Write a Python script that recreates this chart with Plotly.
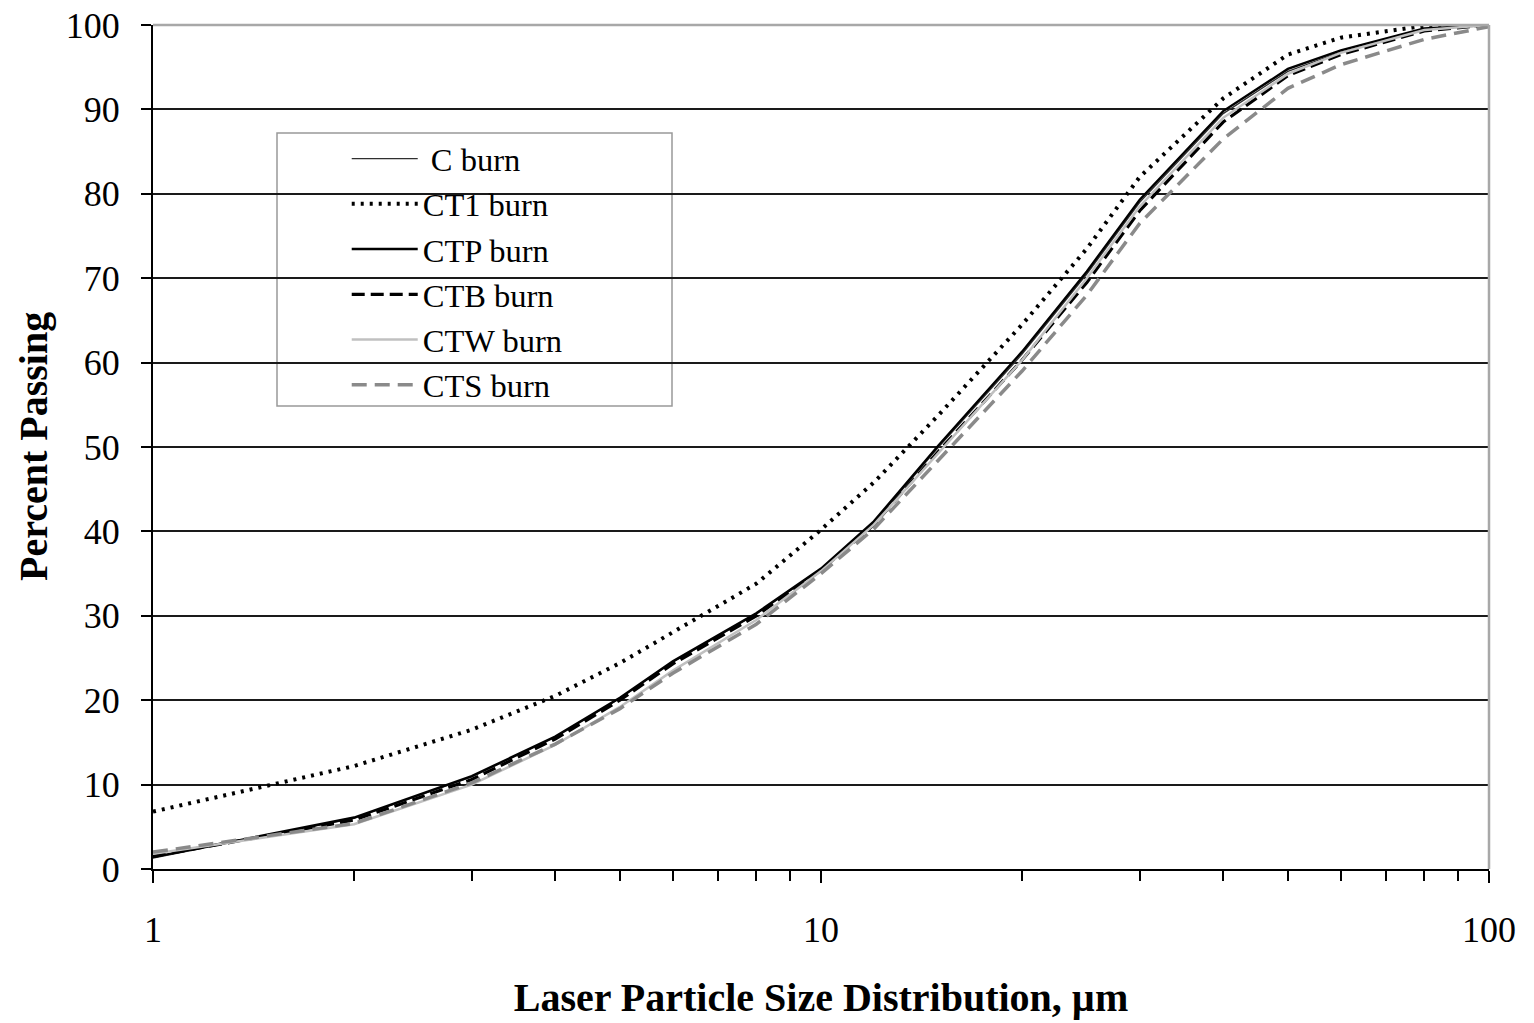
import plotly.graph_objects as go

sizes = [1, 2, 3, 4, 5, 6, 8, 10, 12, 15, 20, 25, 30, 40, 50, 60, 80, 100]
c_burn   = [1.3, 6.0, 10.9, 15.6, 20.2, 24.5, 30.2, 35.5, 41.0, 50.0, 61.0, 70.5, 79.0, 89.5, 94.5, 96.8, 99.5, 100]
ct1_burn = [6.8, 12.2, 16.5, 20.5, 24.4, 28.1, 33.8, 40.2, 45.8, 53.8, 64.5, 73.5, 82.0, 91.3, 96.5, 98.5, 99.9, 100]
ctp_burn = [1.4, 6.1, 11.0, 15.7, 20.3, 24.6, 30.3, 35.6, 41.2, 50.2, 61.3, 70.8, 79.3, 89.8, 94.8, 97.0, 99.6, 100]
ctb_burn = [1.5, 5.8, 10.6, 15.4, 20.0, 24.3, 30.0, 35.4, 40.8, 49.5, 60.3, 69.5, 78.0, 88.5, 94.0, 96.5, 99.3, 100]
ctw_burn = [1.8, 5.3, 10.0, 14.7, 19.2, 23.5, 29.5, 35.3, 40.8, 49.3, 60.3, 70.0, 78.5, 89.0, 94.2, 96.7, 99.4, 100]
cts_burn = [2.0, 5.4, 10.2, 14.8, 19.0, 23.2, 29.0, 35.0, 40.3, 48.5, 59.0, 68.0, 76.5, 86.5, 92.5, 95.3, 98.3, 99.8]

y_ticks = list(range(0, 101, 10))
x_major = [1, 10, 100]
x_minor = [2, 3, 4, 5, 6, 7, 8, 9, 20, 30, 40, 50, 60, 70, 80, 90]

FONT = "Liberation Serif"

series = [
    (" C burn", c_burn, dict(color="#303030", width=1.3)),
    ("CT1 burn", ct1_burn, dict(color="black", width=4, dash="3px,6px")),
    ("CTP burn", ctp_burn, dict(color="black", width=2.4)),
    ("CTB burn", ctb_burn, dict(color="black", width=3.2, dash="13px,6px")),
    ("CTW burn", ctw_burn, dict(color="#c0c0c0", width=2.5)),
    ("CTS burn", cts_burn, dict(color="#8a8a8a", width=3.5, dash="15px,8px")),
]

fig = go.Figure()
for name, vals, line in series:
    fig.add_trace(go.Scatter(x=sizes, y=vals, mode="lines", name=name, line=line))

fig.update_layout(
    width=1534, height=1023,
    margin=dict(l=153, r=45, t=25, b=154),
    paper_bgcolor="white", plot_bgcolor="white",
    font=dict(family=FONT, size=36, color="black"),
    showlegend=True,
    legend=dict(
        x=0.145, y=0.8745, xanchor="left", yanchor="top",
        bgcolor="rgba(0,0,0,0)", borderwidth=0,
        font=dict(family=FONT, size=32.5, color="black"),
        itemwidth=66,
        tracegroupgap=0,
    ),
    xaxis=dict(
        type="log", range=[0, 2], automargin=False,
        tickvals=x_major, ticktext=[str(v) for v in x_major],
        ticks="outside", ticklen=12, tickwidth=2, tickcolor="black",
        minor=dict(tickvals=x_minor, ticks="outside", ticklen=10, tickwidth=2, tickcolor="black", showgrid=False),
        showline=True, linecolor="black", linewidth=2,
        showgrid=False, zeroline=False,
        ticklabelstandoff=16,
        tickfont=dict(family=FONT, size=36),
        title=dict(text="<b>Laser Particle Size Distribution, µm</b>", font=dict(family=FONT, size=40), standoff=34),
    ),
    yaxis=dict(
        range=[0, 100], tickvals=y_ticks, automargin=False,
        ticks="outside", ticklen=10, tickwidth=2, tickcolor="black",
        showline=True, linecolor="black", linewidth=2,
        showgrid=True, gridcolor="#1a1a1a", gridwidth=1.5,
        zeroline=False,
        ticklabelstandoff=14,
        tickfont=dict(family=FONT, size=36),
    ),
    annotations=[
        dict(text="<b>Percent Passing</b>", xref="paper", yref="paper",
             x=(33 - 153) / 1336, y=0.5, xanchor="center", yanchor="middle",
             textangle=-90, showarrow=False, font=dict(family=FONT, size=40, color="black")),
    ],
    shapes=[
        dict(type="rect", xref="paper", yref="paper",
             x0=(277 - 153) / 1336, x1=(672 - 153) / 1336,
             y0=(869 - 406) / 844, y1=(869 - 133) / 844,
             fillcolor="white", line=dict(color="#999999", width=1.5), layer="between"),
        dict(type="line", xref="paper", yref="paper", x0=0, x1=1, y0=1, y1=1,
             line=dict(color="#a8a8a8", width=2.5), layer="above"),
        dict(type="line", xref="paper", yref="paper", x0=1, x1=1, y0=0, y1=1,
             line=dict(color="#a8a8a8", width=2.5), layer="above"),
    ],
)

fig.write_html("out.html")
